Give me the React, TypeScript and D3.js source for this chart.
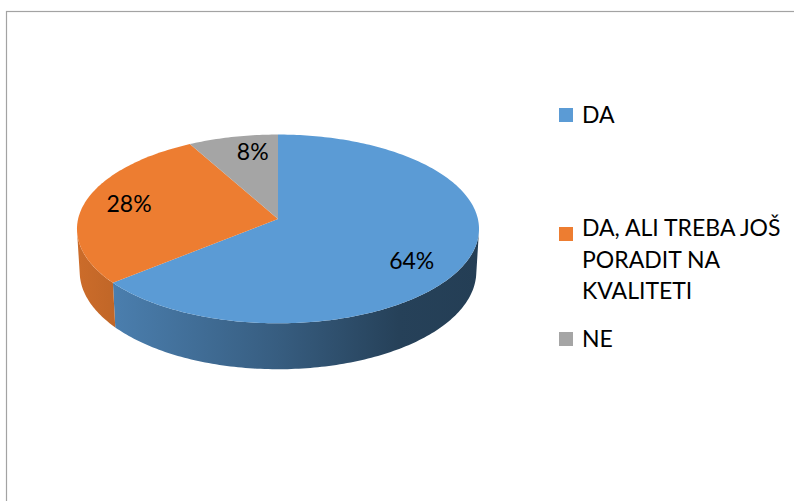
import React from "react";
import * as d3 from "d3";

// ---- data ----
const categories = ["DA", "DA, ALI TREBA JOŠ PORADIT NA KVALITETI", "NE"];
const values = [64, 28, 8];
const percentLabels = ["64%", "28%", "8%"];
const legendLines = [["DA"], ["DA, ALI TREBA JOŠ", "PORADIT NA", "KVALITETI"], ["NE"]];
const colors = ["#5B9BD5", "#ED7D31", "#A5A5A5"];

// ---- geometry (3D perspective pie) ----
const W = 794;
const H = 501;
const CX = 278; // screen x of pie axis
const CY = 219; // screen y of pie centre (top face)
const FR = 199.9; // focal * radius
const SIN_A = 0.467;
const COS_A = 0.884;
const R = 0.119; // radius relative to camera distance
const DEPTH = 0.244; // thickness relative to radius
const FONT = "Lato, 'Open Sans', sans-serif";

// label placement (flat ellipse)
const LAB_CY = 224;
const LAB_RX = 201;
const LAB_RY = 95;
const LAB_R = 0.77;
const LAB_ROT = (5 * Math.PI) / 180;

function proj(theta: number, r: number, z: number): [number, number] {
  const X = r * Math.sin(theta);
  const Y = r * Math.cos(theta);
  const w = 1 + R * (COS_A * Y - SIN_A * z);
  const x = CX + (FR * X) / w;
  const y = CY - (FR * (SIN_A * Y + COS_A * z)) / w;
  return [x, y];
}

function arcPoints(a0: number, a1: number, r: number, z: number): [number, number][] {
  const n = Math.max(2, Math.ceil(Math.abs(a1 - a0) / (Math.PI / 180)));
  const pts: [number, number][] = [];
  for (let i = 0; i <= n; i++) {
    const t = a0 + ((a1 - a0) * i) / n;
    pts.push(proj(t, r, z));
  }
  return pts;
}

const line = d3.line();

export default function App() {
  const pie = d3.pie<number>().sort(null).value((d) => d);
  const arcs = pie(values);

  const visCos = -R / COS_A;
  const vis0 = Math.acos(visCos);
  const vis1 = 2 * Math.PI - vis0;

  const xLeft = proj(-Math.acos(-R * COS_A), 1, 0)[0];
  const xRight = proj(Math.acos(-R * COS_A), 1, 0)[0];

  const shade = [
    [0, 0.86],
    [0.08, 0.82],
    [0.5, 0.6],
    [0.8, 0.42],
    [1, 0.4],
  ];

  const sides = arcs.map((a, i) => {
    const s = Math.max(a.startAngle, vis0);
    const e = Math.min(a.endAngle, vis1);
    if (e <= s) return null;
    const top = arcPoints(s, e, 1, 0);
    const bot = arcPoints(e, s, 1, -DEPTH);
    return (
      <path
        key={"side" + i}
        d={line([...top, ...bot]) + "Z"}
        fill={`url(#sideGrad${i})`}
      />
    );
  });

  const tops = arcs.map((a, i) => {
    const pts = [proj(0, 0, 0), ...arcPoints(a.startAngle, a.endAngle, 1, 0)];
    return <path key={"top" + i} d={line(pts) + "Z"} fill={colors[i]} />;
  });

  const labels = arcs.map((a, i) => {
    const mid = (a.startAngle + a.endAngle) / 2 + LAB_ROT;
    const x = CX + LAB_RX * LAB_R * Math.sin(mid);
    const y = LAB_CY - LAB_RY * LAB_R * Math.cos(mid);
    return (
      <text
        key={"lab" + i}
        x={x}
        y={y}
        dy="0.36em"
        textAnchor="middle"
        fontFamily={FONT}
        fontSize={23}
        fill="#000"
      >
        {percentLabels[i]}
      </text>
    );
  });

  const legendX = 559;
  const textX = 582;
  const lineH = 31.5;
  const rowBaselines = [123, 236, 347];

  return (
    <svg
      width={W}
      height={H}
      style={{ position: "absolute", left: 0, top: 0, background: "#fff" }}
    >
      <defs>
        {colors.map((c, i) => (
          <linearGradient
            key={i}
            id={`sideGrad${i}`}
            gradientUnits="userSpaceOnUse"
            x1={xLeft}
            x2={xRight}
            y1={0}
            y2={0}
          >
            {shade.map(([o, f], j) => {
              const rgb = d3.rgb(c);
              const col = d3.rgb(rgb.r * f, rgb.g * f, rgb.b * f);
              return <stop key={j} offset={o} stopColor={col.formatHex()} />;
            })}
          </linearGradient>
        ))}
      </defs>
      <rect x={6.5} y={11.5} width={W} height={H} fill="#fff" stroke="#a3a3a3" strokeWidth={1.2} />
      <g>{sides}</g>
      <g>{tops}</g>
      <g>{labels}</g>
      <g>
        {categories.map((c, i) => {
          const b = rowBaselines[i];
          const sy = b - 15 + (legendLines[i].length > 1 ? 6 : 0);
          return (
            <g key={"leg" + i}>
              <title>{c}</title>
              <rect x={legendX} y={sy} width={14} height={14} fill={colors[i]} />
              {legendLines[i].map((t, j) => (
                <text
                  key={j}
                  x={textX}
                  y={b + j * lineH}
                  fontFamily={FONT}
                  fontSize={23}
                  fill="#000"
                >
                  {t}
                </text>
              ))}
            </g>
          );
        })}
      </g>
    </svg>
  );
}
